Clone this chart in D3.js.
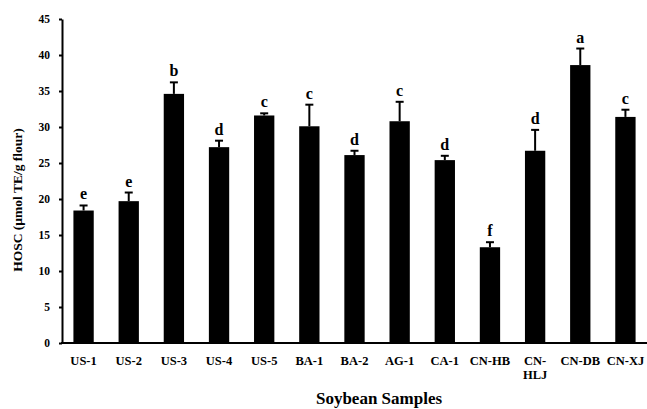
<!DOCTYPE html>
<html>
<head>
<meta charset="utf-8">
<style>
body { margin: 0; background: #fff; }
text { font-family: "Liberation Serif", "Times New Roman", serif; font-weight: bold; fill: #000; }
</style>
</head>
<body>
<svg id="chart" width="647" height="409"></svg>
<script src="https://cdnjs.cloudflare.com/ajax/libs/d3/7.8.5/d3.min.js"></script>
<script>
const samples = ["US-1", "US-2", "US-3", "US-4", "US-5", "BA-1", "BA-2", "AG-1", "CA-1", "CN-HB", "CN-HLJ", "CN-DB", "CN-XJ"];
const hosc = [18.4, 19.7, 34.6, 27.2, 31.6, 30.1, 26.1, 30.8, 25.4, 13.3, 26.7, 38.6, 31.4];
const sd = [0.7, 1.2, 1.6, 0.9, 0.3, 3.0, 0.6, 2.7, 0.6, 0.7, 2.9, 2.3, 1.0];
const groups = ["e", "e", "b", "d", "c", "c", "d", "c", "d", "f", "d", "a", "c"];
const yTicks = [0, 5, 10, 15, 20, 25, 30, 35, 40, 45];

const data = samples.map((s, i) => ({ name: s, v: hosc[i], e: sd[i], g: groups[i] }));
const svg = d3.select("#chart");

const x = d3.scaleBand().domain(samples).range([61, 648]).paddingInner(0.55).paddingOuter(0.275);
const y = d3.scaleLinear().domain([0, 45]).range([343, 19]);

// bars
svg.append("g").selectAll("rect")
    .data(data)
    .enter()
    .append("rect")
    .attr("x", d => x(d.name))
    .attr("width", x.bandwidth())
    .attr("y", d => y(d.v))
    .attr("height", d => y(0) - y(d.v))
    .attr("fill", "#000");

// upper error bars
const err = svg.append("g").attr("stroke", "#000").attr("stroke-width", 2);
data.forEach(d => {
    const cx = x(d.name) + x.bandwidth() / 2;
    err.append("line").attr("x1", cx).attr("x2", cx).attr("y1", y(d.v)).attr("y2", y(d.v + d.e));
    err.append("line").attr("x1", cx - 4).attr("x2", cx + 4).attr("y1", y(d.v + d.e)).attr("y2", y(d.v + d.e));
});

// significance letters
svg.append("g").selectAll("text")
    .data(data)
    .enter()
    .append("text")
    .attr("x", d => x(d.name) + x.bandwidth() / 2)
    .attr("y", d => y(d.v + d.e) - 6)
    .attr("text-anchor", "middle")
    .style("font-size", "16px")
    .text(d => d.g);

// y axis
const yAxis = svg.append("g")
    .attr("transform", "translate(62,0)")
    .call(d3.axisLeft(y).tickValues(yTicks).tickSize(3).tickSizeOuter(0));
yAxis.select(".domain").attr("stroke-width", 2);
yAxis.selectAll(".tick line").attr("stroke-width", 2);
yAxis.selectAll(".tick text")
    .attr("x", -12)
    .style("font-family", "'Liberation Serif', serif")
    .style("font-weight", "bold")
    .style("font-size", "11.5px");

// x axis
svg.append("line")
    .attr("x1", 61).attr("x2", 647)
    .attr("y1", y(0)).attr("y2", y(0))
    .attr("stroke", "#000").attr("stroke-width", 2);

const xl = svg.append("g").selectAll("text")
    .data(samples)
    .enter()
    .append("text")
    .attr("x", d => x(d) + x.bandwidth() / 2)
    .attr("y", 365)
    .attr("text-anchor", "middle")
    .style("font-size", "12.5px");
xl.each(function(d) {
    const t = d3.select(this);
    if (d === "CN-HLJ") {
        t.append("tspan").attr("x", t.attr("x")).text("CN-");
        t.append("tspan").attr("x", t.attr("x")).attr("dy", 14).text("HLJ");
    } else {
        t.text(d);
    }
});

// axis titles
svg.append("text")
    .attr("transform", "translate(22,200) rotate(-90)")
    .attr("text-anchor", "middle")
    .style("font-size", "13.5px")
    .text("HOSC (µmol TE/g flour)");

svg.append("text")
    .attr("x", 379)
    .attr("y", 404)
    .attr("text-anchor", "middle")
    .style("font-size", "17px")
    .text("Soybean Samples");
</script>
</body>
</html>
